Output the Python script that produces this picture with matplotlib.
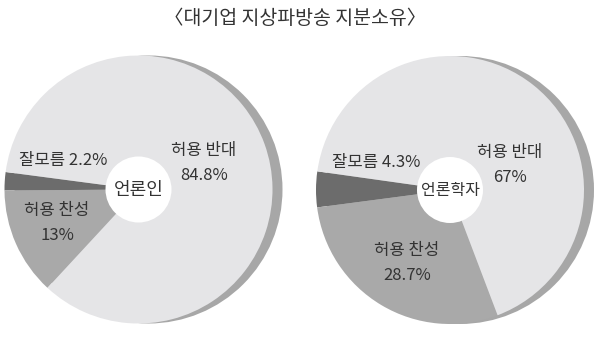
import matplotlib
matplotlib.use('Agg')
import matplotlib.pyplot as plt
from matplotlib.patches import Circle

plt.rcParams['font.family'] = ['Noto Sans CJK KR', 'DejaVu Sans']

# data
title = '〈대기업 지상파방송 지분소유〉'
groups = ['언론인', '언론학자']
labels = ['잘모름', '허용 찬성', '허용 반대']
press = [2.2, 13, 84.8]
scholars = [4.3, 28.7, 67]

colors = ['#6c6c6c', '#a9a9a9', '#e5e5e7']
SHADOW = '#a7a7a7'
TEXT = '#333333'

W, H = 600, 339
R = 134
HOLE_R = 33
SHADOW_DX = 10

# pie layout in pixel coords (y down), label spots per slice
pies = [
    dict(cx=138.5, cy=189.5, start=172.5, gsize=13,
         spots=[(63, 160), (57, 222), (204, 162)]),
    dict(cx=450, cy=190, start=172, gsize=11.5,
         spots=[(376, 163), (407, 263), (510, 165)]),
]


def fmt(v):
    return '%g%%' % v


def draw_pie(ax, layout, values, group):
    cx, cy = layout['cx'], H - layout['cy']
    # grey crescent behind the pie
    ax.add_patch(Circle((cx + SHADOW_DX, cy), R, color=SHADOW, zorder=1, lw=0))
    ax.pie(values, colors=colors, startangle=layout['start'], counterclock=True,
           center=(cx, cy), radius=R, frame=True,
           wedgeprops=dict(linewidth=0, zorder=2))
    ax.add_patch(Circle((cx, cy), HOLE_R, color='white', zorder=3, lw=0))
    ax.text(cx, cy, group, ha='center', va='center', fontsize=layout['gsize'],
            color=TEXT, zorder=4)

    for i, (lab, v) in enumerate(zip(labels, values)):
        x, y = layout['spots'][i]
        if i == 0:
            ax.text(x, H - y, lab + ' ' + fmt(v), ha='center', va='center',
                    fontsize=12, color=TEXT, zorder=4)
        else:
            ax.text(x, H - y + 12, lab, ha='center', va='center',
                    fontsize=12, color=TEXT, zorder=4)
            ax.text(x, H - y - 13, fmt(v), ha='center', va='center',
                    fontsize=12, color=TEXT, zorder=4)


fig = plt.figure(figsize=(W / 100, H / 100), dpi=100)
ax = fig.add_axes([0, 0, 1, 1])

draw_pie(ax, pies[0], press, groups[0])
draw_pie(ax, pies[1], scholars, groups[1])

ax.text(295, H - 19, title, ha='center', va='center', fontsize=14, color=TEXT)

ax.set_xlim(0, W)
ax.set_ylim(0, H)
ax.set_aspect('equal')
ax.axis('off')

fig.savefig('out.png', dpi=100)
